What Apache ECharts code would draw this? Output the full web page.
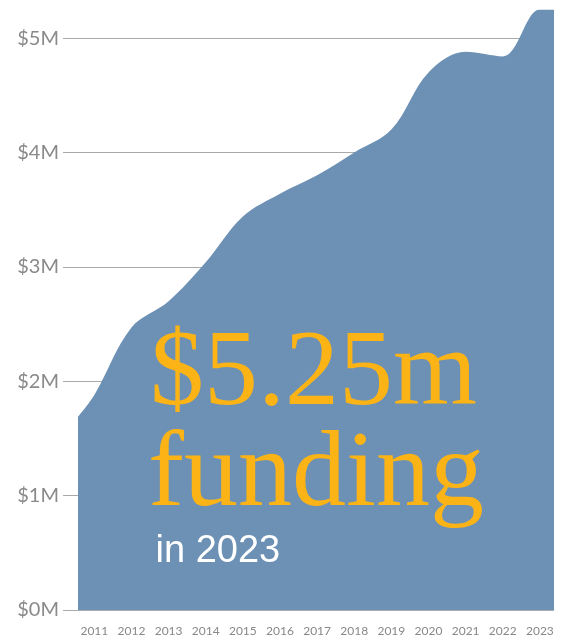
<!DOCTYPE html>
<html>
<head>
<meta charset="utf-8">
<script src="https://cdn.jsdelivr.net/npm/echarts@6/dist/echarts.min.js"></script>
<style>
html,body{margin:0;padding:0;background:#fff;}
#chart{width:561px;height:640px;}
</style>
</head>
<body>
<div id="chart"></div>
<script>
// Data
const years = [2010.56, 2011, 2012, 2013, 2014, 2015, 2016, 2017, 2018, 2019, 2020, 2021, 2022, 2023, 2023.38];
const funding = [1.69, 1.88, 2.47, 2.70, 3.04, 3.44, 3.64, 3.80, 4.00, 4.20, 4.70, 4.88, 4.84, 5.25, 5.25]; // $M
const yearLabels = [2011, 2012, 2013, 2014, 2015, 2016, 2017, 2018, 2019, 2020, 2021, 2022, 2023];
const yTicks = [0, 1, 2, 3, 4, 5];
const yMax = 5.25;

const chart = echarts.init(document.getElementById('chart'), null, {renderer: 'canvas'});
const option = {
  animation: false,
  grid: {left: 78, right: 7, top: 9.5, bottom: 30, containLabel: false},
  xAxis: {
    type: 'value',
    min: years[0],
    max: years[years.length - 1],
    axisLine: {show: false},
    axisTick: {show: false},
    splitLine: {show: false},
    axisLabel: {
      customValues: yearLabels,
      formatter: v => String(v),
      fontFamily: 'Lato',
      fontSize: 12,
      color: '#888888',
      margin: 15
    }
  },
  yAxis: {
    type: 'value',
    min: 0,
    max: yMax,
    interval: 1,
    axisLine: {show: false},
    axisTick: {show: true, customValues: yTicks, length: 15, lineStyle: {color: '#aaaaaa', width: 1}},
    splitLine: {show: true, lineStyle: {color: '#aaaaaa', width: 1}},
    axisLabel: {
      customValues: yTicks,
      formatter: v => '$' + v + 'M',
      fontFamily: 'Lato',
      fontSize: 20,
      color: '#8a8a8a',
      margin: 19
    }
  },
  series: [{
    type: 'line',
    data: years.map((y, i) => [y, funding[i]]),
    smooth: 0.35,
    symbol: 'none',
    lineStyle: {width: 0},
    areaStyle: {color: '#6c91b5', opacity: 1},
    z: 2
  }],
  graphic: [
    {type: 'text', z: 10, x: 150, y: 376,
     style: {text: '$5.25m', font: '108px "Liberation Serif"', fill: '#fbb316', textAlign: 'left', textVerticalAlign: 'middle'}},
    {type: 'text', z: 10, x: 148, y: 477,
     style: {text: 'funding', font: '108px "Liberation Serif"', fill: '#fbb316', textAlign: 'left', textVerticalAlign: 'middle'}},
    {type: 'text', z: 10, x: 155.5, y: 552,
     style: {text: 'in 2023', font: '38px "Liberation Sans"', fill: '#ffffff', textAlign: 'left', textVerticalAlign: 'middle'}}
  ]
};
chart.setOption(option);
</script>
</body>
</html>
